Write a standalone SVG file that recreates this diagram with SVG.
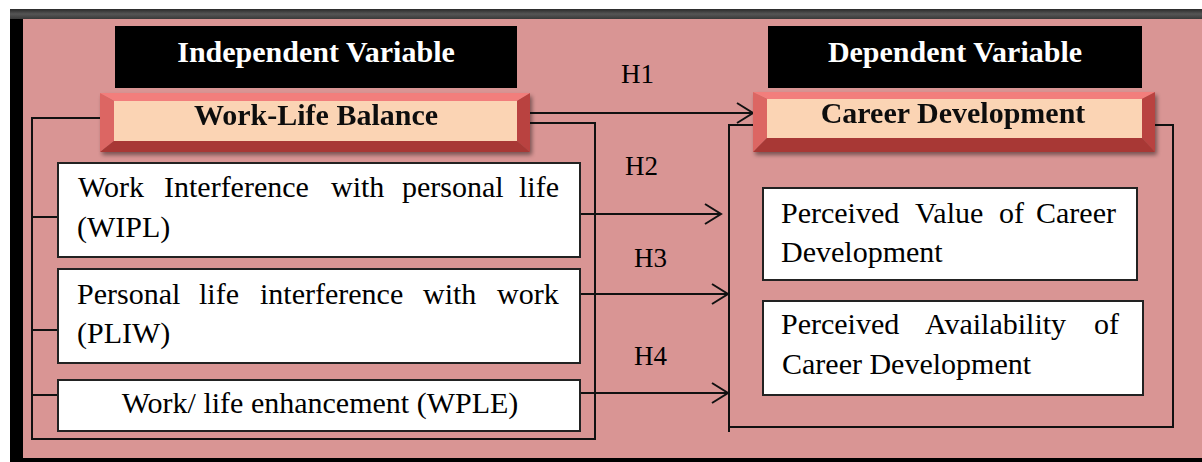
<svg xmlns="http://www.w3.org/2000/svg" width="1202" height="462" viewBox="0 0 1202 462">
<style>
  .body{font-family:"Liberation Serif","Times New Roman",serif;font-size:30px;fill:#000}
  .hdr{font-family:"Liberation Serif","Times New Roman",serif;font-size:30px;font-weight:bold;fill:#fff}
  .bev{font-family:"Liberation Serif","Times New Roman",serif;font-size:30px;font-weight:bold;fill:#111}
  .h{font-family:"Liberation Serif","Times New Roman",serif;font-size:27px;fill:#000}
  .box{fill:#fff;stroke:#222;stroke-width:2}
  .line{fill:none;stroke:#111;stroke-width:2}
  .top{fill:#f27e7b}.left{fill:#dc6663}.right{fill:#b9433f}.bottom{fill:#a83936}.inner{fill:#fbd4b4}
</style>
<defs>
  <marker id="arr" markerUnits="userSpaceOnUse" markerWidth="20" markerHeight="24" refX="18" refY="11" orient="auto">
    <path d="M2,1 L18,11 L2,21" fill="none" stroke="#111" stroke-width="2"/>
  </marker>
  <filter id="sh" x="-5%" y="-20%" width="115%" height="150%">
    <feGaussianBlur in="SourceAlpha" stdDeviation="2"/>
    <feOffset dx="2" dy="3"/>
    <feComponentTransfer><feFuncA type="linear" slope="0.45"/></feComponentTransfer>
    <feMerge><feMergeNode/><feMergeNode in="SourceGraphic"/></feMerge>
  </filter>
  <linearGradient id="topbar" x1="0" y1="0" x2="0" y2="1">
    <stop offset="0" stop-color="#2a2a2a"/><stop offset="0.5" stop-color="#555"/><stop offset="1" stop-color="#3a3a3a"/>
  </linearGradient>
</defs>

<!-- frame -->
<g id="frame">
  <rect x="0" y="0" width="1202" height="462" fill="#fff"/>
  <rect x="10" y="9" width="1192" height="453" fill="#000"/>
  <rect x="10" y="9" width="1192" height="10" fill="url(#topbar)"/>
  <rect x="23" y="19" width="1179" height="439" fill="#d99594"/>
</g>

<!-- connectors -->
<g id="connectors">
  <path class="line" d="M100,118 H32 V439 H595 V123 H530"/>
  <path class="line" d="M32,217 H63 M32,330 H63 M32,395 H63"/>
  <path class="line" d="M753,125 H729 V432 M729,427 H1173 V125 H1154"/>
  <line class="line" x1="530" y1="113" x2="753" y2="113" marker-end="url(#arr)"/>
  <line class="line" x1="576" y1="214" x2="721" y2="214" marker-end="url(#arr)"/>
  <line class="line" x1="580" y1="294" x2="728" y2="294" marker-end="url(#arr)"/>
  <line class="line" x1="580" y1="393" x2="728" y2="393" marker-end="url(#arr)"/>
  <text class="h" x="621" y="83">H1</text>
  <text class="h" x="625" y="175">H2</text>
  <text class="h" x="634" y="267">H3</text>
  <text class="h" x="634" y="365">H4</text>
</g>

<g id="independent-header">
  <rect x="115" y="26" width="402" height="62" fill="#000"/>
  <text class="hdr" x="316" y="62" text-anchor="middle">Independent Variable</text>
</g>

<g id="dependent-header">
  <rect x="768" y="26" width="374" height="62" fill="#000"/>
  <text class="hdr" x="955" y="62" text-anchor="middle">Dependent Variable</text>
</g>

<g id="work-life-balance" filter="url(#sh)">
  <polygon class="top" points="100,93 530,93 517,101 114,101"/>
  <polygon class="left" points="100,93 114,101 114,141 100,152"/>
  <polygon class="right" points="530,93 530,152 517,141 517,101"/>
  <polygon class="bottom" points="100,152 114,141 517,141 530,152"/>
  <rect class="inner" x="114" y="101" width="403" height="40"/>
  <text class="bev" x="316" y="125" text-anchor="middle">Work-Life Balance</text>
</g>

<g id="career-development" filter="url(#sh)">
  <polygon class="top" points="753,92 1155,92 1142,99 767,99"/>
  <polygon class="left" points="753,92 767,99 767,138 753,152"/>
  <polygon class="right" points="1155,92 1155,152 1142,138 1142,99"/>
  <polygon class="bottom" points="753,152 767,138 1142,138 1155,152"/>
  <rect class="inner" x="767" y="99" width="375" height="39"/>
  <text class="bev" x="953" y="123" text-anchor="middle">Career Development</text>
</g>

<g id="wipl">
  <rect class="box" x="58" y="163" width="522" height="94"/>
  <text class="body" y="197"><tspan x="78">Work</tspan><tspan x="164">Interference</tspan><tspan x="331">with</tspan><tspan x="402">personal</tspan><tspan x="519">life</tspan></text>
  <text class="body" x="77" y="237">(WIPL)</text>
</g>

<g id="pliw">
  <rect class="box" x="58" y="269" width="522" height="94"/>
  <text class="body" y="304"><tspan x="77">Personal</tspan><tspan x="199">life</tspan><tspan x="260">interference</tspan><tspan x="423">with</tspan><tspan x="497">work</tspan></text>
  <text class="body" x="77" y="343">(PLIW)</text>
</g>

<g id="wple">
  <rect class="box" x="58" y="380" width="522" height="51"/>
  <text class="body" x="320" y="413" text-anchor="middle">Work/ life enhancement (WPLE)</text>
</g>

<g id="pvcd">
  <rect class="box" x="763" y="188" width="374" height="92"/>
  <text class="body" y="223"><tspan x="781">Perceived</tspan><tspan x="915">Value</tspan><tspan x="999">of</tspan><tspan x="1036">Career</tspan></text>
  <text class="body" x="781" y="262">Development</text>
</g>

<g id="pacd">
  <rect class="box" x="763" y="301" width="380" height="94"/>
  <text class="body" y="334"><tspan x="781">Perceived</tspan><tspan x="925">Availability</tspan><tspan x="1094">of</tspan></text>
  <text class="body" x="782" y="374">Career Development</text>
</g>
</svg>
